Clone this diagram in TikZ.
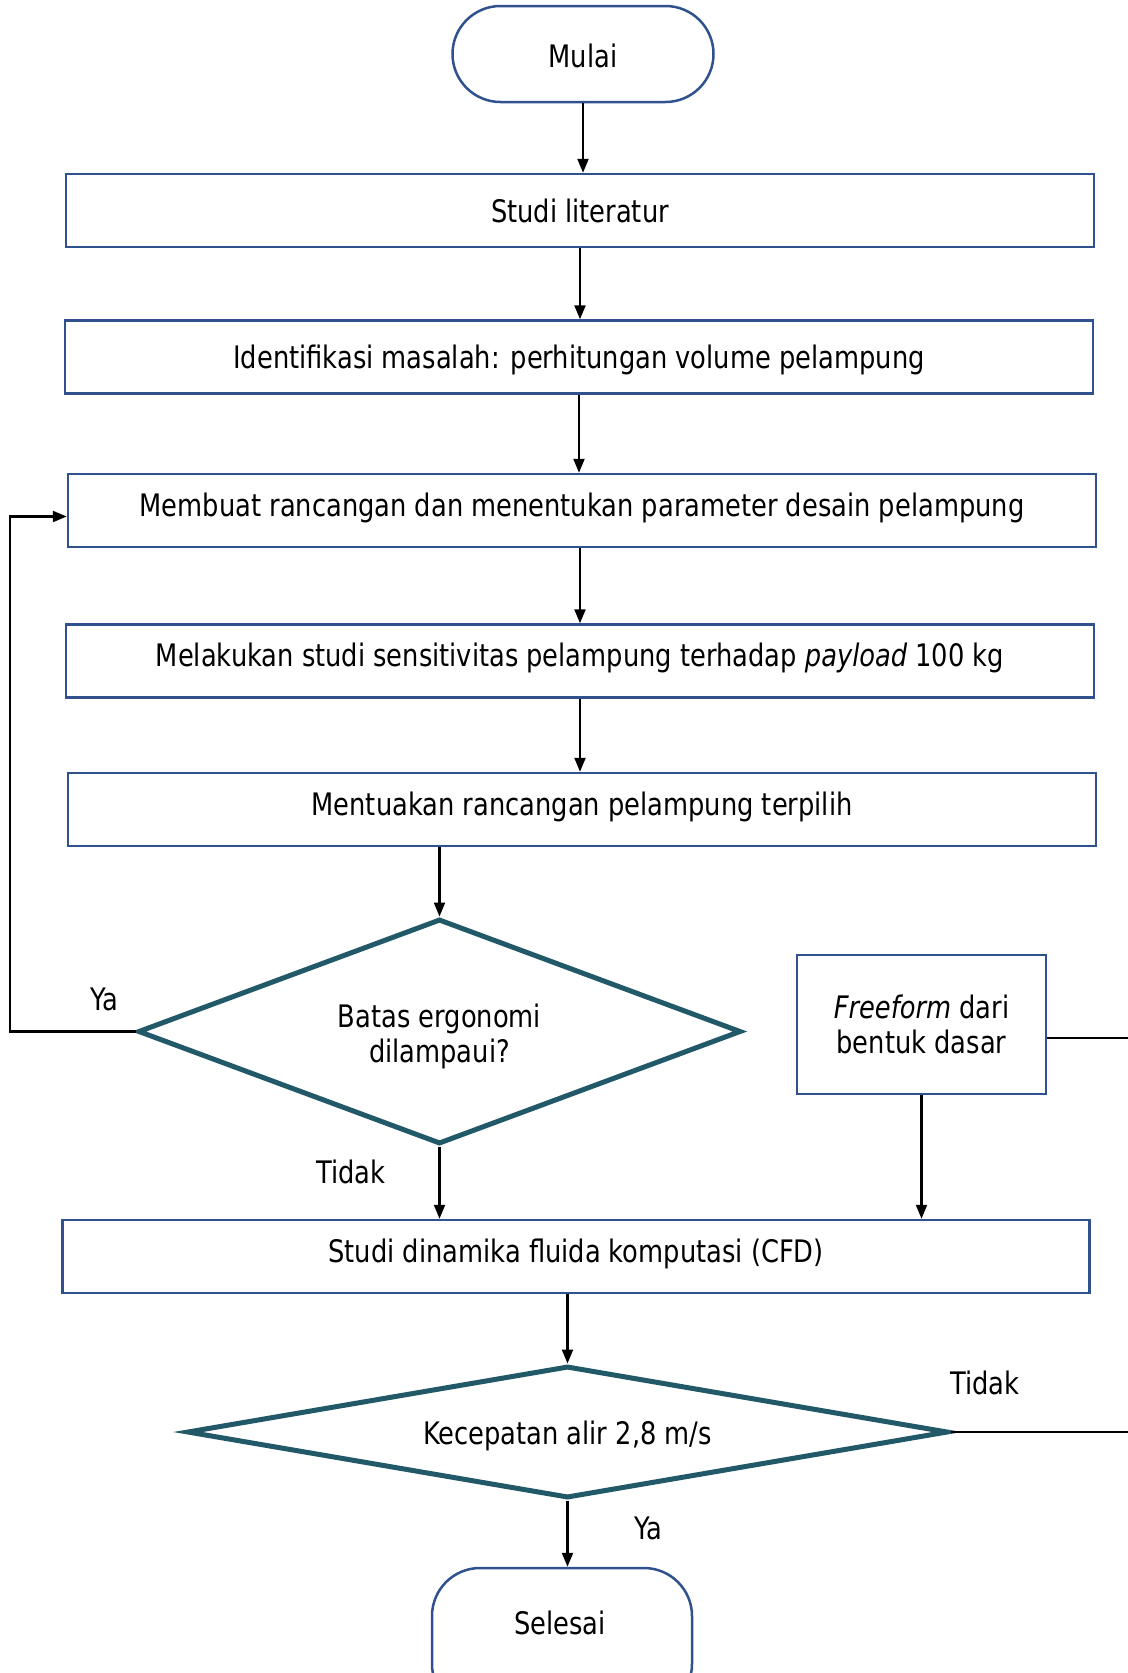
\documentclass[tikz,border=0pt]{standalone}
\usepackage{fontspec}
\setmainfont{DejaVu Sans}[FakeStretch=0.83]
\usetikzlibrary{shapes.geometric,arrows.meta}

\definecolor{boxblue}{RGB}{47,82,143}
\definecolor{decteal}{RGB}{34,89,105}

\tikzset{
  every node/.style={font=\fontsize{31}{35}\selectfont},
  procbox/.style={draw=boxblue, line width=2.5pt, fill=white,
    minimum width=1028pt, minimum height=73pt, inner sep=0pt,
    text height=31pt, text depth=8pt},
  raised/.style={text depth=20pt},
  termbox/.style={draw=boxblue, line width=2.5pt, fill=white,
    rounded corners=48pt, inner sep=0pt},
  decision/.style={diamond, draw=decteal, line width=5pt, fill=white,
    inner sep=0pt},
  arr/.style={draw=black, line width=2.2pt, -{Triangle[length=14pt,width=11pt]}},
  plain/.style={draw=black, line width=2pt},
  lbl/.style={inner sep=0pt}
}

\begin{document}
\begin{tikzpicture}[x=1pt,y=-1pt]
\useasboundingbox (0,0) rectangle (1127,1673);

% terminals and process steps
\node[termbox, minimum width=261pt, minimum height=96pt, text height=27pt, text depth=0pt]
  (start) at (583,54) {Mulai};
\node[procbox] (s1) at (580,210.5) {Studi literatur};
\node[procbox] (s2) at (579,357) {Identifikasi masalah: perhitungan volume pelampung};
\node[procbox, raised] (s3) at (582,510.5) {Membuat rancangan dan menentukan parameter desain pelampung};
\node[procbox, raised] (s4) at (580,661) {Melakukan studi sensitivitas pelampung terhadap \textit{payload} 100 kg};
\node[procbox, raised] (s5) at (582,809.5) {Mentuakan rancangan pelampung terpilih};

% first decision and side branch
\node[decision, minimum width=603pt, minimum height=225pt, aspect=2.68] (d1) at (439.5,1031.5) {};
\node[lbl, align=center] (d1text) at ([yshift=-4.5pt]d1.center) {Batas ergonomi\\dilampaui?};
\node[draw=boxblue, line width=2.5pt, fill=white, minimum width=249pt, minimum height=139pt,
  inner sep=0pt, align=center] (ff) at (921.5,1024.5) {\textit{Freeform} dari\\bentuk dasar};

\node[procbox, raised, minimum width=1027pt] (cfd) at (576,1256.5) {Studi dinamika fluida komputasi (CFD)};

% second decision and end
\node[decision, minimum width=761pt, minimum height=132pt, aspect=5.86] (d2) at (567.5,1432) {};
\node[lbl] (d2text) at ([yshift=-4pt]d2.center) {Kecepatan alir 2,8 m/s};
\node[termbox, minimum width=260pt, minimum height=144pt] (end) at (562,1640) {};
\node[lbl] (endtext) at (560,1623) {Selesai};

% branch labels
\node[lbl] (ya1) at (104,999) {Ya};
\node[lbl] (tidak1) at (351,1172) {Tidak};
\node[lbl] (tidak2) at (985,1383) {Tidak};
\node[lbl] (ya2) at (648,1528) {Ya};

% rails for the loop-back and the lines leaving the page
\coordinate (leftrail) at (10,800);
\coordinate (rightrail) at (1135,1000);

% main flow
\draw[arr] (start.south) -- (start.south |- s1.north);
\draw[arr] (s1.south) -- (s1.south |- s2.north);
\draw[arr] (s2.south) -- (s2.south |- s3.north);
\draw[arr] (s4.north |- s3.south) -- (s4.north);
\draw[arr] (s4.south) -- (s4.south |- s5.north);
\draw[arr] (d1.north |- s5.south) -- (d1.north);
\draw[arr] (d1.south) -- (d1.south |- cfd.north);
\draw[arr] (ff.south) -- (ff.south |- cfd.north);
\draw[arr] (d2.north |- cfd.south) -- (d2.north);
\draw[arr] (d2.south) -- (d2.south |- end.north);

% loop back to the design step
\draw[arr] (d1.west) -- (d1.west -| leftrail) |- ([yshift=-6pt]s3.west);

% lines leaving to the right
\draw[plain] ([yshift=-13.5pt]ff.east) -- ([yshift=-13.5pt]ff.east -| rightrail);
\draw[plain] (d2.east) -- (d2.east -| rightrail);
\end{tikzpicture}
\end{document}
